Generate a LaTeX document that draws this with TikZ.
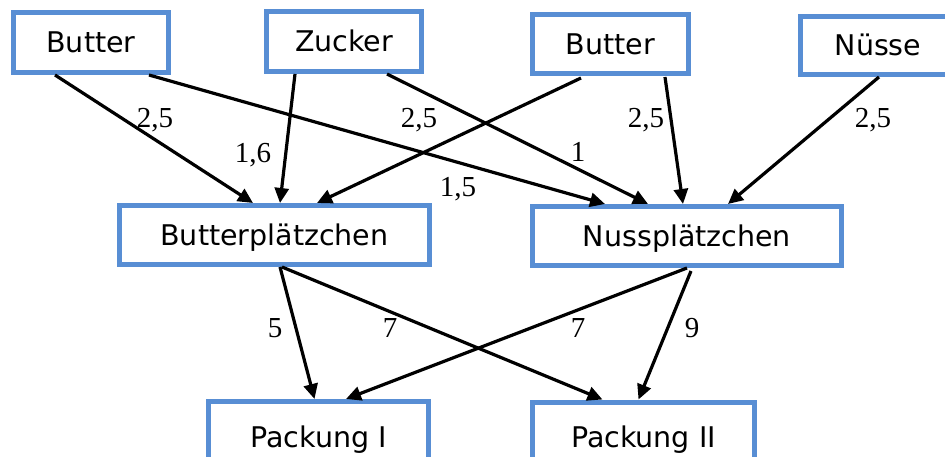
\documentclass[tikz,border=0pt]{standalone}
\usepackage{fontspec}
\setmainfont{Liberation Serif}
\newfontfamily\boxfont{DejaVu Sans}
\usetikzlibrary{arrows.meta}
\definecolor{boxblue}{RGB}{88,142,212}
\tikzset{
  box/.style={draw=boxblue, line width=5pt, fill=white, inner sep=0pt,
    font=\boxfont\fontsize{28.5}{34}\selectfont, text height=20.8pt, text depth=0pt},
  arr/.style={line width=3.2pt, -{Triangle[length=15pt,width=14pt]}},
  lab/.style={anchor=base, inner sep=0pt, font=\fontsize{29}{34}\selectfont}
}
\begin{document}
\begin{tikzpicture}[x=1pt,y=-1pt]
\useasboundingbox (0,0) rectangle (945,457);
\clip (0,0) rectangle (945,457);
% boxes
\node[box, minimum width=155pt, minimum height=60pt] (b1) at (91,42.5) {Butter};
\node[box, minimum width=155pt, minimum height=60pt] (zu) at (344,41.5) {Zucker};
\node[box, minimum width=156pt, minimum height=59pt] (b2) at (610.5,44) {Butter};
\node[box, minimum width=155pt, minimum height=58pt] (nu) at (878,45.5) {Nüsse};
\node[box, minimum width=310pt, minimum height=59pt] (bp) at (274.5,235) {Butterplätzchen};
\node[box, minimum width=309pt, minimum height=59pt] (np) at (687,236) {Nussplätzchen};
\node[box, minimum width=220pt, minimum height=71pt] (p1) at (318.5,437) {Packung I};
\node[box, minimum width=222pt, minimum height=71pt] (p2) at (643.5,437.5) {Packung II};
% connectors
\draw[arr] ([xshift=-36pt]b1.south) -- ([xshift=-21.5pt]bp.north);
\draw[arr] ([xshift=58pt]b1.south) -- ([xshift=-82pt]np.north);
\draw[arr] ([xshift=-49pt]zu.south) -- ([xshift=5.5pt]bp.north);
\draw[arr] ([xshift=43pt]zu.south) -- ([xshift=-39pt]np.north);
\draw[arr] ([xshift=-29.5pt,yshift=-2pt]b2.south) -- ([xshift=42.5pt]bp.north);
\draw[arr] ([xshift=54.5pt,yshift=-1pt]b2.south) -- ([xshift=-4pt]np.north);
\draw[arr] ([xshift=1pt]nu.south) -- ([xshift=41pt]np.north);
\draw[arr] ([xshift=5.5pt]bp.south) -- ([xshift=-4pt]p1.north);
\draw[arr] ([xshift=7.5pt]bp.south) -- ([xshift=-41pt]p2.north);
\draw[arr] ([xshift=0pt]np.south) -- ([xshift=27.5pt]p1.north);
\draw[arr] ([xshift=4pt,yshift=-3pt]np.south) -- ([xshift=-5pt]p2.north);
% labels
\node[lab] (l1) at (155,128) {2,5};
\node[lab] (l2) at (253,163) {1,6};
\node[lab] (l3) at (419,128) {2,5};
\node[lab] (l4) at (458,197) {1,5};
\node[lab] (l5) at (578,162) {1};
\node[lab] (l6) at (646,128) {2,5};
\node[lab] (l7) at (873,128) {2,5};
\node[lab] (l8) at (275,337) {5};
\node[lab] (l9) at (390,337) {7};
\node[lab] (l10) at (578,337) {7};
\node[lab] (l11) at (692,337) {9};
\end{tikzpicture}
\end{document}
